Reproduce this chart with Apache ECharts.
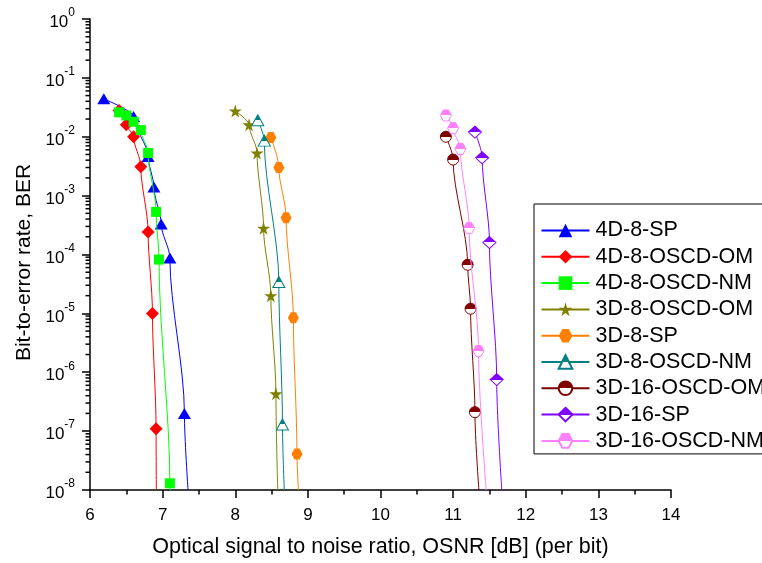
<!DOCTYPE html>
<html>
<head>
<meta charset="utf-8">
<script src="https://cdn.jsdelivr.net/npm/echarts@6/dist/echarts.min.js"></script>
<style>
  html, body { margin: 0; padding: 0; background: #fff; }
  #chart { width: 762px; height: 563px; }
</style>
</head>
<body>
<div id="chart"></div>
<script>
// BER curves versus OSNR for the 4D / 3D constellations
const seriesNames = ['4D-8-SP', '4D-8-OSCD-OM', '4D-8-OSCD-NM', '3D-8-OSCD-OM', '3D-8-SP',
                     '3D-8-OSCD-NM', '3D-16-OSCD-OM', '3D-16-SP', '3D-16-OSCD-NM'];

const sp4dOsnr = [6.19, 6.60, 6.80, 6.88, 6.98, 7.10, 7.30];
const sp4dBer  = [4.4e-2, 2.2e-2, 4.6e-3, 1.4e-3, 3.3e-4, 8.7e-5, 2.0e-7];

const om4dOsnr = [6.40, 6.50, 6.60, 6.70, 6.80, 6.86, 6.91];
const om4dBer  = [2.8e-2, 1.6e-2, 1.0e-2, 3.1e-3, 2.4e-4, 1.0e-5, 1.1e-7];

const nm4dOsnr = [6.40, 6.50, 6.60, 6.70, 6.80, 6.91, 6.95, 7.10];
const nm4dBer  = [2.6e-2, 2.3e-2, 1.8e-2, 1.3e-2, 5.3e-3, 5.3e-4, 8.2e-5, 1.3e-8];

const om3d8Osnr = [8.00, 8.19, 8.30, 8.39, 8.49, 8.56];
const om3d8Ber  = [2.75e-2, 1.6e-2, 5.3e-3, 2.8e-4, 2.0e-5, 4.3e-7];

const sp3d8Osnr = [8.49, 8.60, 8.70, 8.80, 8.85];
const sp3d8Ber  = [9.7e-3, 3.0e-3, 4.2e-4, 8.4e-6, 4.1e-8];

const nm3d8Osnr = [8.31, 8.40, 8.60, 8.65];
const nm3d8Ber  = [1.9e-2, 8.6e-3, 3.4e-5, 1.3e-7];

const om3d16Osnr = [10.90, 11.00, 11.20, 11.24, 11.30];
const om3d16Ber  = [1.0e-2, 4.1e-3, 6.7e-5, 1.2e-5, 2.1e-7];

const sp3d16Osnr = [11.30, 11.40, 11.50, 11.60];
const sp3d16Ber  = [1.2e-2, 4.4e-3, 1.6e-4, 7.5e-7];

const nm3d16Osnr = [10.90, 11.00, 11.10, 11.22, 11.35];
const nm3d16Ber  = [2.3e-2, 1.4e-2, 6.2e-3, 2.8e-4, 2.3e-6];

// OSNR where each fitted curve reaches the 1e-8 floor of the plot
const floorOsnr = [7.35, 6.913, 7.11, 8.585, 8.87, 8.675, 11.355, 11.67, 11.455];
const berFloor = 1e-8;

const xTicks = [6, 7, 8, 9, 10, 11, 12, 13, 14];

const measured = [
  [sp4dOsnr, sp4dBer], [om4dOsnr, om4dBer], [nm4dOsnr, nm4dBer],
  [om3d8Osnr, om3d8Ber], [sp3d8Osnr, sp3d8Ber], [nm3d8Osnr, nm3d8Ber],
  [om3d16Osnr, om3d16Ber], [sp3d16Osnr, sp3d16Ber], [nm3d16Osnr, nm3d16Ber]
];

// marker styles
const colors = ['#0000ff', '#ff0000', '#00ff00', '#808000', '#ff8000',
                '#008080', '#800000', '#8000ff', '#ff80ff'];
const STAR = 'path://M50,0 L61,35 L98,35 L68,57 L79,91 L50,70 L21,91 L32,57 L2,35 L39,35 Z';
const HEX = 'path://M27,0 L73,0 L100,50 L73,100 L27,100 L0,50 Z';
const symbols = ['triangle', 'diamond', 'rect', STAR, HEX, 'triangle', 'circle', 'diamond', HEX];
const symbolSizes = [[13, 11], [13, 13], [10, 10], [13, 13], [11, 11], [12, 11], [11, 11], [13, 12], [11, 11]];
const halfFilled = [false, false, false, false, false, true, true, true, true];

function halfFill(c) {
  return new echarts.graphic.LinearGradient(0, 0, 0, 1, [
    { offset: 0, color: c }, { offset: 0.5, color: c },
    { offset: 0.5, color: '#ffffff' }, { offset: 1, color: '#ffffff' }
  ]);
}

const FONT = '"Liberation Sans", Arial, sans-serif';

const lineSeries = seriesNames.map((name, i) => {
  const [xs, ys] = measured[i];
  const pts = xs.map((x, k) => [x, ys[k]]);
  pts.push({ value: [floorOsnr[i], berFloor], symbol: 'none' });
  return {
    name: name,
    type: 'line',
    data: pts,
    smooth: 0.3,
    smoothMonotone: 'y',
    symbol: symbols[i],
    symbolSize: symbolSizes[i],
    showAllSymbol: true,
    lineStyle: { color: colors[i], width: 1 },
    itemStyle: halfFilled[i]
      ? { color: halfFill(colors[i]), borderColor: colors[i], borderWidth: 1, opacity: 1 }
      : { color: colors[i], borderWidth: 0, opacity: 1 },
    emphasis: { disabled: true },
    animation: false,
    z: 2 + i * 0.01
  };
});

// log-spaced minor ticks on the BER axis (2..9 x 10^n)
const minorBer = [];
for (let e = -8; e < 0; e++) {
  for (let m = 2; m <= 9; m++) minorBer.push(m * Math.pow(10, e));
}

const minorTickSeries = {
  type: 'custom',
  silent: true,
  clip: false,
  data: minorBer.map(v => [6, v]),
  renderItem: function (params, api) {
    const p = api.coord([api.value(0), api.value(1)]);
    return {
      type: 'line',
      shape: { x1: p[0] - 4.5, y1: p[1], x2: p[0], y2: p[1] },
      style: { stroke: '#000', lineWidth: 1.5 }
    };
  },
  animation: false,
  z: 5
};

const chart = echarts.init(document.getElementById('chart'), null, { renderer: 'canvas' });

chart.setOption({
  backgroundColor: '#ffffff',
  animation: false,
  textStyle: { fontFamily: FONT },
  grid: { left: 90, top: 19, right: 91, bottom: 72.5, containLabel: false },
  legend: {
    data: seriesNames,
    orient: 'vertical',
    left: 534,
    top: 204,
    padding: [15.5, 10, 2, 6.5],
    itemGap: 4.3,
    itemWidth: 48,
    itemHeight: 17,
    borderColor: '#000',
    borderWidth: 1,
    backgroundColor: '#fff',
    selectedMode: false,
    textStyle: { fontFamily: FONT, fontSize: 21.5, color: '#000', lineHeight: 21, padding: [0, 0, 0, 1] }
  },
  xAxis: {
    type: 'value',
    min: xTicks[0],
    max: xTicks[xTicks.length - 1],
    interval: 1,
    name: 'Optical signal to noise ratio, OSNR [dB] (per bit)',
    nameLocation: 'middle',
    nameGap: 46,
    nameTextStyle: { fontFamily: FONT, fontSize: 21.5, color: '#000' },
    axisLine: { onZero: false, lineStyle: { color: '#000', width: 1.5 } },
    axisTick: { show: true, inside: false, length: 8, lineStyle: { color: '#000', width: 1.5 } },
    minorTick: { show: true, splitNumber: 2, length: 4.5, lineStyle: { color: '#000', width: 1.5 } },
    axisLabel: { fontFamily: FONT, fontSize: 17, color: '#000', margin: 17 },
    splitLine: { show: false }
  },
  yAxis: {
    type: 'log',
    logBase: 10,
    min: berFloor,
    max: 1,
    interval: 1,
    name: 'Bit-to-error rate, BER',
    nameLocation: 'middle',
    nameGap: 55,
    nameTextStyle: { fontFamily: FONT, fontSize: 21, color: '#000', padding: [0, 16, 0, 0] },
    axisLine: { show: true, onZero: false, lineStyle: { color: '#000', width: 1.5 } },
    axisTick: { show: true, inside: false, length: 8, lineStyle: { color: '#000', width: 1.5 } },
    axisLabel: {
      margin: 15,
      formatter: function (v) {
        const e = Math.round(Math.log10(v));
        return '{b|10}{s|' + e + '}';
      },
      rich: {
        b: { fontFamily: FONT, fontSize: 17, color: '#000', lineHeight: 24, verticalAlign: 'bottom' },
        s: { fontFamily: FONT, fontSize: 12, color: '#000', lineHeight: 12, verticalAlign: 'top' }
      }
    },
    splitLine: { show: false }
  },
  series: lineSeries.concat([minorTickSeries])
});
</script>
</body>
</html>
